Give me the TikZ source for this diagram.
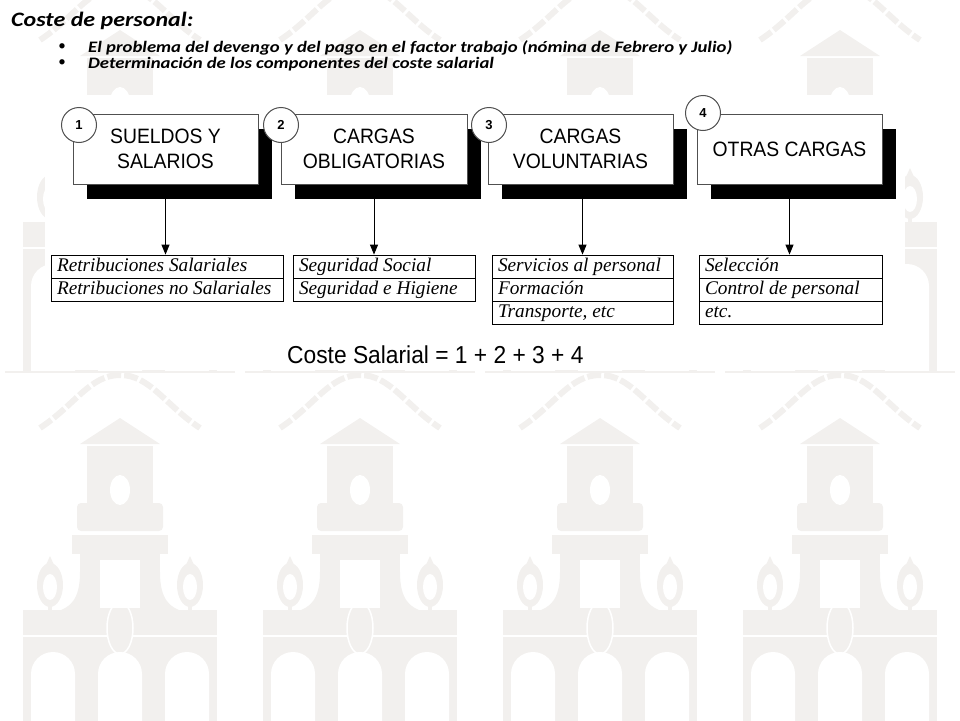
\documentclass[tikz,border=0pt]{standalone}
\usepackage{fontspec}
\setmainfont{Liberation Serif}
\newfontfamily\calibw[FakeStretch=1.17]{Carlito}
\newfontfamily\calib{Carlito}
\newfontfamily\arialn[FakeStretch=0.93]{Liberation Sans}
\newfontfamily\arial{Liberation Sans}
\usetikzlibrary{arrows.meta}
\definecolor{wm}{RGB}{242,240,238}
\definecolor{bordergray}{RGB}{80,80,80}
\tikzset{
  mainbox/.style={draw=bordergray, line width=1pt, fill=white, minimum width=185pt, minimum height=70pt, inner sep=0pt, align=center, font=\arialn\fontsize{20.8}{25}\selectfont},
  shadowbox/.style={fill=black, minimum width=185pt, minimum height=70pt, inner sep=0pt},
  numcircle/.style={circle, draw=bordergray, line width=1pt, fill=white, minimum size=35pt, inner sep=0pt, font=\arial\bfseries\fontsize{13}{13}\selectfont},
  listrow/.style={draw=black, line width=0.8pt, minimum height=23pt, inner xsep=6pt, inner ysep=0pt, align=flush left, text width=#1, font=\itshape\fontsize{19.3}{20}\selectfont, text height=13pt, text depth=4pt},
  arr/.style={line width=1pt, -{Triangle[length=10pt,width=8pt]}},
  bullettext/.style={anchor=base west, inner sep=0pt, font=\calibw\bfseries\itshape\fontsize{16}{16}\selectfont},
  bulletmark/.style={inner sep=0pt, font=\calib\fontsize{15}{15}\selectfont},
  wmfill/.style={fill=wm},
}
\newcommand\WMtile[2]{%
  \begin{scope}[shift={(#1,#2)}]
    \draw[wm, line width=6pt, dash pattern=on 14pt off 3pt] (40,68) .. controls (75,45) and (90,15) .. (120,15) .. controls (150,15) and (165,45) .. (200,68);
    \fill[wmfill] (80,84) -- (120,58) -- (160,84) -- cycle;
    \fill[wmfill] (87,86) rectangle (153,150);
    \fill[wmfill, rounded corners=4pt] (77,143) rectangle (163,171);
    \fill[wmfill] (72,175) rectangle (168,194);
    \fill[wmfill] (80,194) rectangle (160,252);
    \fill[wmfill] (80,212) .. controls (80,240) and (70,248) .. (55,252) -- (80,252) -- cycle;
    \fill[wmfill] (160,212) .. controls (160,240) and (170,248) .. (185,252) -- (160,252) -- cycle;
    \fill[wmfill] (23,250) rectangle (217,400);
    \draw[white, line width=2pt] (23,276) -- (217,276);
    \foreach \lx in {50,190} {
      \fill[wmfill] (\lx,225) ellipse (13 and 22);
      \fill[white] (\lx,227) ellipse (7 and 13);
      \fill[wmfill] (\lx-5,207) -- (\lx,196) -- (\lx+5,207) -- cycle;
      \fill[wmfill] (\lx-2,245) rectangle (\lx+2,252);
    }
    \filldraw[fill=wm, draw=white, line width=1.5pt] (120,268) ellipse (13 and 26);
    \fill[white] (120,130) ellipse (10 and 15);
    \fill[white] (100,200) rectangle (140,248);
    \foreach \cx in {53,120,187} {
      \fill[white] (\cx-22,401) -- (\cx-22,314) arc (180:360:22) -- (\cx+22,401) -- cycle;
    }
    \draw[wm, line width=1.5pt] (5,400) -- (235,400);
  \end{scope}}
\begin{document}
\begin{tikzpicture}[x=1pt, y=-1pt]
\useasboundingbox (0,0) rectangle (960,720);
\begin{scope}
  \clip (0,0) rectangle (960,720);
  \foreach \tx in {0,240,480,720} {
    \WMtile{\tx}{-28}
    \WMtile{\tx}{360}
  }
\end{scope}
% white panel behind the diagram
\fill[white] (45,95) rectangle (905,370);

% title and bullets
\node[anchor=base west, inner sep=0pt, font=\calibw\bfseries\itshape\fontsize{20.5}{20}\selectfont] (title) at (11,26) {Coste de personal:};
\node[bulletmark] (bul1) at (62,47) {•};
\node[bulletmark] (bul2) at (62,63) {•};
\node[bullettext] (t1) at (88,52) {El problema del devengo y del pago en el factor trabajo (nómina de Febrero y Julio)};
\node[bullettext] (t2) at (88,68) {Determinación de los componentes del coste salarial};

% shadows
\node[shadowbox] (sh1) at (179.5,164) {};
\node[shadowbox, minimum width=186pt] (sh2) at (388,164) {};
\node[shadowbox] (sh3) at (594.5,164) {};
\node[shadowbox] (sh4) at (803.5,164) {};

% main boxes
\node[mainbox] (b1) at (165.5,149) {SUELDOS Y\\SALARIOS};
\node[mainbox, minimum width=186pt] (b2) at (374,149) {CARGAS\\OBLIGATORIAS};
\node[mainbox] (b3) at (580.5,149) {CARGAS\\VOLUNTARIAS};
\node[mainbox] (b4) at (789.5,149) {OTRAS CARGAS};

% number circles
\node[numcircle] (c1) at (79,125) {1};
\node[numcircle] (c2) at (281,125) {2};
\node[numcircle] (c3) at (489,125) {3};
\node[numcircle] (c4) at (703,113) {4};

% list boxes
\node[listrow=220pt] (la1) at (167,266.5) {Retribuciones Salariales};
\node[listrow=220pt] (la2) at (167,289.5) {Retribuciones no Salariales};
\node[listrow=170pt] (lb1) at (384,266.5) {Seguridad Social};
\node[listrow=170pt] (lb2) at (384,289.5) {Seguridad e Higiene};
\node[listrow=169pt] (lc1) at (582.5,266.5) {Servicios al personal};
\node[listrow=169pt] (lc2) at (582.5,289.5) {Formación};
\node[listrow=169pt] (lc3) at (582.5,312.5) {Transporte, etc};
\node[listrow=171pt] (ld1) at (790.5,266.5) {Selección};
\node[listrow=171pt] (ld2) at (790.5,289.5) {Control de personal};
\node[listrow=171pt] (ld3) at (790.5,312.5) {etc.};

% arrows
\draw[arr] (b1.center |- sh1.south) -- (b1.center |- la1.north);
\draw[arr] (b2.center |- sh2.south) -- (b2.center |- lb1.north);
\draw[arr] (lc1.center |- sh3.south) -- (lc1.north);
\draw[arr] (b4.center |- sh4.south) -- (b4.center |- ld1.north);

% formula
\node[anchor=west, inner sep=0pt, font=\arialn\fontsize{24.5}{25}\selectfont] (formula) at (287,355) {Coste Salarial = 1 + 2 + 3 + 4};
\end{tikzpicture}
\end{document}
